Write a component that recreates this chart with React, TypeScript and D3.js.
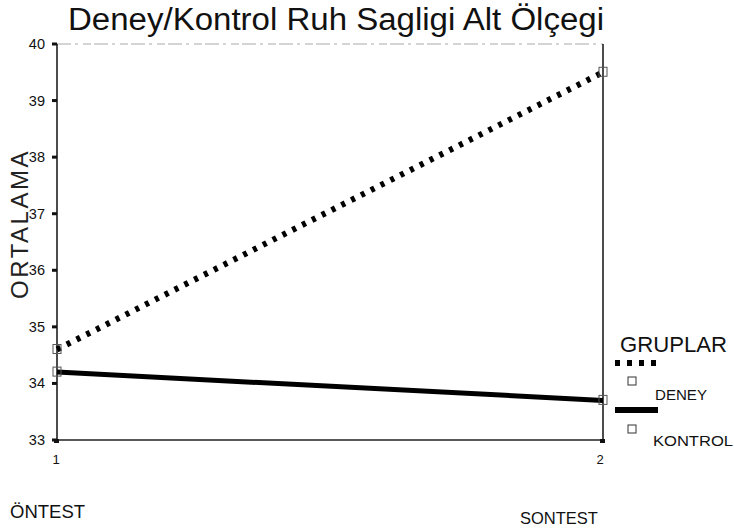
import React from "react";
import * as d3 from "d3";

const timepoints = [1, 2];
const xTickLabels = ["1", "2"];
const xCategoryLabels = ["ÖNTEST", "SONTEST"];
const yTicks = [33, 34, 35, 36, 37, 38, 39, 40];
const yTickLabels = ["33", "34", "35", "36", "37", "38", "39", "40"];
const deneyValues = [34.6, 39.5];
const kontrolValues = [34.2, 33.7];
const groupNames = ["DENEY", "KONTROL"];

const W = 734;
const H = 530;
const left = 57;
const right = 603;
const top = 44;
const bottom = 440;

export default function App() {
  const x = d3.scaleLinear().domain([1, 2]).range([left, right]);
  const y = d3.scaleLinear().domain([33, 40]).range([bottom, top]);
  const line = d3
    .line<number>()
    .x((_, i) => x(timepoints[i]))
    .y((d) => y(d));
  const font = "'Liberation Sans', Arial, sans-serif";
  const series = [
    { name: groupNames[0], values: deneyValues, dash: "4 7" },
    { name: groupNames[1], values: kontrolValues, dash: undefined },
  ];
  return (
    <svg
      width={W}
      height={H}
      style={{ position: "absolute", left: 0, top: 0, background: "#fff" }}
      fontFamily={font}
    >
      <rect x={0} y={0} width={W} height={H} fill="#fff" />
      <text x={68} y={30} fontSize={31} textLength={536} lengthAdjust="spacingAndGlyphs" fill="#111">
        Deney/Kontrol Ruh Sagligi Alt Ölçegi
      </text>
      {/* frame */}
      <line x1={left} x2={right} y1={top} y2={top} stroke="#aaa" strokeWidth={1} strokeDasharray="14 4 3 5 8 3" />
      <line x1={left} x2={left} y1={top} y2={bottom} stroke="#111" strokeWidth={1.5} />
      <line x1={right} x2={right} y1={top} y2={bottom} stroke="#111" strokeWidth={1.5} />
      <line x1={left} x2={right} y1={bottom} y2={bottom} stroke="#222" strokeWidth={1.3} />
      {/* y label */}
      <text
        transform={`translate(28, 224) rotate(-90)`}
        fontSize={24}
        textAnchor="middle"
        letterSpacing={2.5}
        fill="#222"
      >
        ORTALAMA
      </text>
      {/* y ticks */}
      {yTicks.map((t, i) => (
        <g key={t}>
          <rect x={left - 5} y={y(t) - 1.5} width={5} height={3} fill="#111" />
          <text x={45} y={y(t) + 5} fontSize={14.5} textAnchor="end" fill="#111">
            {yTickLabels[i]}
          </text>
        </g>
      ))}
      {/* x ticks */}
      {timepoints.map((t, i) => (
        <g key={t}>
          <rect x={x(t) - 3} y={bottom - 1} width={5} height={4} fill="#111" />
          <text x={x(t) - 1 + (i === 1 ? -2 : 0)} y={bottom + 24} fontSize={13} textAnchor="middle" fill="#111">
            {xTickLabels[i]}
          </text>
          <text
            x={i === 0 ? 10 : 520}
            y={i === 0 ? 518 : 524}
            fontSize={i === 0 ? 18.5 : 16.5}
            textAnchor="start"
            fill="#111"
          >
            {xCategoryLabels[i]}
          </text>
        </g>
      ))}
      {/* lines */}
      {series.map((s) => (
        <g key={s.name}>
          <path
            d={line(s.values) || ""}
            fill="none"
            stroke="#000"
            strokeWidth={s.dash ? 6 : 5}
            strokeDasharray={s.dash}
          />
          {s.values.map((v, i) => (
            <rect
              key={i}
              x={x(timepoints[i]) - 4}
              y={y(v) - 5}
              width={8}
              height={9}
              fill="none"
              stroke="#555"
              strokeWidth={1}
            />
          ))}
        </g>
      ))}
      {/* legend */}
      <text x={620} y={352} fontSize={22} textLength={107} lengthAdjust="spacingAndGlyphs" fill="#111">
        GRUPLAR
      </text>
      <line x1={615} x2={660} y1={363} y2={363} stroke="#000" strokeWidth={6} strokeDasharray="5 7" />
      <rect x={628} y={377} width={8} height={8} fill="#fff" stroke="#333" strokeWidth={1} />
      <text x={655} y={400} fontSize={14} textLength={52} lengthAdjust="spacingAndGlyphs" fill="#111">
        {groupNames[0]}
      </text>
      <line x1={615} x2={658} y1={410} y2={410} stroke="#000" strokeWidth={6} />
      <rect x={628} y={425} width={8} height={8} fill="#fff" stroke="#333" strokeWidth={1} />
      <text x={653} y={446} fontSize={14} textLength={80} lengthAdjust="spacingAndGlyphs" fill="#111">
        {groupNames[1]}
      </text>
    </svg>
  );
}
